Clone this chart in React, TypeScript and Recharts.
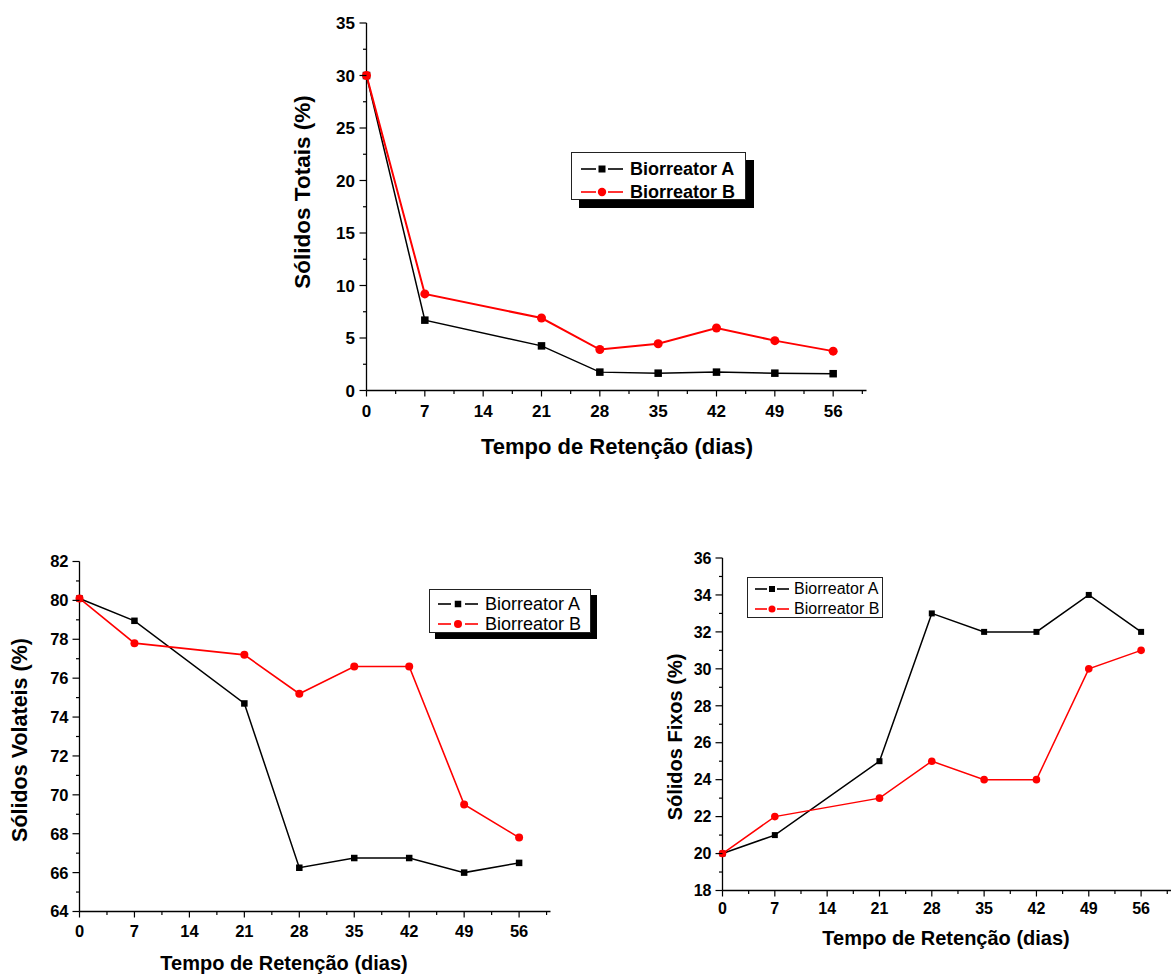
import React from "react";
import { LineChart, Line, XAxis, YAxis } from "recharts";

const FONT = '"Liberation Sans", Arial, Helvetica, sans-serif';

// retention time (days)
const days = [0, 7, 21, 28, 35, 42, 49, 56];

// Sólidos Totais (%)
const totaisA = [30, 6.7, 4.25, 1.75, 1.65, 1.75, 1.65, 1.6];
const totaisB = [30, 9.2, 6.9, 3.9, 4.45, 5.95, 4.75, 3.75];

// Sólidos Volateis (%)
const volateisA = [80.1, 78.95, 74.7, 66.25, 66.75, 66.75, 66.0, 66.5];
const volateisB = [80.1, 77.8, 77.2, 75.2, 76.6, 76.6, 69.5, 67.8];

// Sólidos Fixos (%)
const fixosA = [20, 21, 25, 33, 32, 32, 34, 32];
const fixosB = [20, 22, 23, 25, 24, 24, 30, 31];

// axis ticks (major + minor)
const xTicks = [0, 3.5, 7, 10.5, 14, 17.5, 21, 24.5, 28, 31.5, 35, 38.5, 42, 45.5, 49, 52.5, 56, 59.5];
const xMajor = [0, 7, 14, 21, 28, 35, 42, 49, 56];
const totaisTicks = [0, 2.5, 5, 7.5, 10, 12.5, 15, 17.5, 20, 22.5, 25, 27.5, 30, 32.5, 35];
const totaisMajor = [0, 5, 10, 15, 20, 25, 30, 35];
const volateisTicks = [64, 65, 66, 67, 68, 69, 70, 71, 72, 73, 74, 75, 76, 77, 78, 79, 80, 81, 82];
const volateisMajor = [64, 66, 68, 70, 72, 74, 76, 78, 80, 82];
const fixosTicks = [18, 19, 20, 21, 22, 23, 24, 25, 26, 27, 28, 29, 30, 31, 32, 33, 34, 35, 36];
const fixosMajor = [18, 20, 22, 24, 26, 28, 30, 32, 34, 36];

const seriesNames = ["Biorreator A", "Biorreator B"];

function rows(a: number[], b: number[]) {
  return days.map((d, i) => ({ day: d, a: a[i], b: b[i] }));
}

function xTick(fontSize: number, labelDy: number) {
  return (props: any) => {
    const { x, y, payload } = props;
    const major = xMajor.includes(payload.value);
    return (
      <g>
        <line x1={x} y1={y} x2={x} y2={y + (major ? 6 : 3.5)} stroke="#000" strokeWidth={1.2} />
        {major && (
          <text x={x} y={y + labelDy} textAnchor="middle" fontSize={fontSize} fontWeight="bold" fontFamily={FONT} fill="#000">
            {payload.value}
          </text>
        )}
      </g>
    );
  };
}

function yTick(majors: number[], fontSize: number, gap: number) {
  return (props: any) => {
    const { x, y, payload } = props;
    const major = majors.includes(payload.value);
    return (
      <g>
        <line x1={x} y1={y} x2={x - (major ? 7 : 3.5)} y2={y} stroke="#000" strokeWidth={1.2} />
        {major && (
          <text x={x - gap} y={y} dy="0.36em" textAnchor="end" fontSize={fontSize} fontWeight="bold" fontFamily={FONT} fill="#000">
            {payload.value}
          </text>
        )}
      </g>
    );
  };
}

function squareDot(size: number) {
  return (p: any) => (
    <rect key={`s-${p.index}`} x={p.cx - size / 2} y={p.cy - size / 2} width={size} height={size} fill="#000" />
  );
}

function circleDot(r: number) {
  return (p: any) => <circle key={`c-${p.index}`} cx={p.cx} cy={p.cy} r={r} fill="#ff0000" />;
}

function Panel({
  left, top, width, height, margin, data, yDomain, yTicks, yMajor, tickFont, xLabelDy, yGap, sq, cr, redWidth,
}: any) {
  return (
    <div style={{ position: "absolute", left, top }}>
      <LineChart width={width} height={height} data={data} margin={margin}>
        <XAxis
          dataKey="day"
          type="number"
          domain={[0, 60]}
          ticks={xTicks}
          interval={0}
          height={40}
          tickSize={0}
          tickMargin={0}
          tickLine={false}
          axisLine={{ stroke: "#000", strokeWidth: 1.3 }}
          tick={xTick(tickFont, xLabelDy)}
        />
        <YAxis
          type="number"
          domain={yDomain}
          ticks={yTicks}
          interval={0}
          width={60}
          tickSize={0}
          tickMargin={0}
          tickLine={false}
          axisLine={{ stroke: "#000", strokeWidth: 1.3 }}
          tick={yTick(yMajor, tickFont, yGap)}
          allowDataOverflow
        />
        <Line type="linear" dataKey="a" name={seriesNames[0]} stroke="#000" strokeWidth={1.5} dot={squareDot(sq)} isAnimationActive={false} />
        <Line type="linear" dataKey="b" name={seriesNames[1]} stroke="#ff0000" strokeWidth={redWidth} dot={circleDot(cr)} isAnimationActive={false} />
      </LineChart>
    </div>
  );
}

function LegendBox({ left, top, width, height, fontSize, bold, rowA, rowB, textLeft, sample, shadow, sq, cr }: any) {
  const [l1, l2, m, r1, r2] = sample;
  const row = (cy: number, i: number) => (
    <div key={i} style={{ position: "absolute", left: 0, top: cy - 12, height: 24, width: "100%" }}>
      <svg width={textLeft} height={24} style={{ position: "absolute", left: 0, top: 0 }}>
        <line x1={l1} y1={12} x2={l2} y2={12} stroke={i === 0 ? "#000" : "#ff0000"} strokeWidth={1.6} />
        <line x1={r1} y1={12} x2={r2} y2={12} stroke={i === 0 ? "#000" : "#ff0000"} strokeWidth={1.6} />
        {i === 0 ? (
          <rect x={m - sq / 2} y={12 - sq / 2} width={sq} height={sq} fill="#000" />
        ) : (
          <circle cx={m} cy={12} r={cr} fill="#ff0000" />
        )}
      </svg>
      <span
        style={{
          position: "absolute", left: textLeft, top: 0, lineHeight: "24px", fontSize,
          fontWeight: bold ? "bold" : "normal", fontFamily: FONT, color: "#000", whiteSpace: "nowrap",
        }}
      >
        {seriesNames[i]}
      </span>
    </div>
  );
  return (
    <div
      style={{
        position: "absolute", left, top, width, height, boxSizing: "border-box",
        border: "1px solid #222", background: "#fff",
        boxShadow: shadow ? `${shadow}px ${shadow}px 0 #000` : "none",
      }}
    >
      {row(rowA, 0)}
      {row(rowB, 1)}
    </div>
  );
}

function Title({ cx, cy, text, size, vertical }: any) {
  return (
    <div
      style={{
        position: "absolute", left: cx, top: cy, transform: `translate(-50%, -50%)${vertical ? " rotate(-90deg)" : ""}`,
        fontFamily: FONT, fontWeight: "bold", fontSize: size, whiteSpace: "nowrap", color: "#000", lineHeight: 1,
      }}
    >
      {text}
    </div>
  );
}

export default function App() {
  return (
    <div style={{ position: "absolute", left: 0, top: 0, width: 1172, height: 975, background: "#fff", overflow: "hidden" }}>
      {/* Sólidos Totais */}
      <Panel
        left={280} top={0} width={600} height={480}
        margin={{ top: 23, left: 26.5, right: 13.5, bottom: 49.5 }}
        data={rows(totaisA, totaisB)} yDomain={[0, 35]} yTicks={totaisTicks} yMajor={totaisMajor}
        tickFont={17} xLabelDy={26} yGap={11.5} sq={7.5} cr={4.5} redWidth={2}
      />
      <Title cx={303} cy={192} text="Sólidos Totais (%)" size={22.5} vertical />
      <Title cx={617} cy={447} text="Tempo de Retenção (dias)" size={22} />
      <LegendBox
        left={571} top={152} width={175} height={48} fontSize={18} bold rowA={16} rowB={39}
        textLeft={58} sample={[9, 24, 30, 36, 51]} shadow={8} sq={7} cr={4.2}
      />

      {/* Sólidos Volateis */}
      <Panel
        left={0} top={530} width={570} height={445}
        margin={{ top: 31.5, left: 19.5, right: 19.5, bottom: 23.5 }}
        data={rows(volateisA, volateisB)} yDomain={[64, 82]} yTicks={volateisTicks} yMajor={volateisMajor}
        tickFont={16.5} xLabelDy={25} yGap={11} sq={6.5} cr={4} redWidth={1.6}
      />
      <Title cx={21} cy={740} text="Sólidos Volateis (%)" size={21.5} vertical />
      <Title cx={284} cy={963} text="Tempo de Retenção (dias)" size={20} />
      <LegendBox
        left={429} top={589} width={162} height={44} fontSize={18} rowA={14} rowB={34}
        textLeft={55} sample={[8, 21, 28, 35, 48]} shadow={6} sq={6.5} cr={4}
      />

      {/* Sólidos Fixos */}
      <Panel
        left={650} top={530} width={522} height={445}
        margin={{ top: 28, left: 12.5, right: 1, bottom: 44.5 }}
        data={rows(fixosA, fixosB)} yDomain={[18, 36]} yTicks={fixosTicks} yMajor={fixosMajor}
        tickFont={16} xLabelDy={23} yGap={11} sq={6} cr={3.8} redWidth={1.5}
      />
      <Title cx={675} cy={737} text="Sólidos Fixos (%)" size={20} vertical />
      <Title cx={946} cy={938} text="Tempo de Retenção (dias)" size={20} />
      <LegendBox
        left={747} top={577} width={136} height={41} fontSize={16} rowA={11} rowB={31}
        textLeft={46} sample={[7, 19, 24, 29, 41]} shadow={0} sq={6} cr={3.5}
      />
    </div>
  );
}
